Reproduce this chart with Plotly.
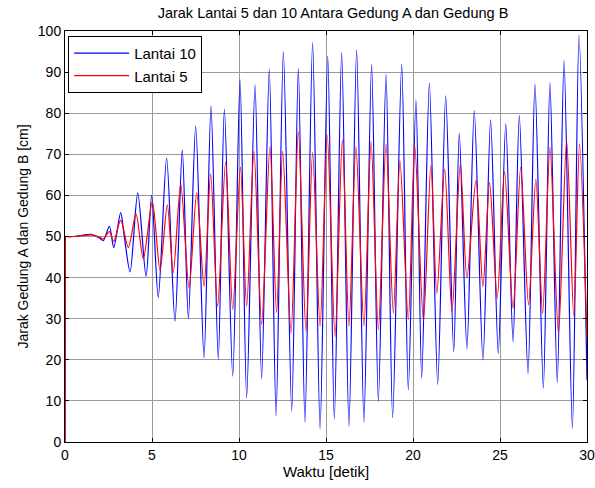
import plotly.graph_objects as go

# ---- data (peaks / troughs) ----
t_l10 = [0.0, 0.02, 0.5, 1.0, 1.5, 2.0, 2.2, 2.55, 2.8, 3.2, 3.4, 3.74, 4.18, 4.66, 4.98, 5.36, 5.84, 6.32,
         6.74, 7.09, 7.51, 7.99, 8.39, 8.81, 9.16, 9.64, 10.06, 10.44, 10.92, 11.3, 11.74, 12.13,
         12.55, 13.03, 13.41, 13.79, 14.23, 14.66, 15.1, 15.48, 15.9, 16.32, 16.76, 17.18, 17.62,
         18.01, 18.45, 18.83, 19.35, 19.73, 20.17, 20.5, 20.94, 21.42, 21.88, 22.34, 22.66, 23.1,
         23.52, 24.02, 24.46, 24.9, 25.33, 25.75, 26.11, 26.61, 27.01, 27.49, 27.87, 28.29, 28.68,
         29.16, 29.54, 30.0]
y_l10 = [0.0, 50.0, 50.0, 50.3, 50.5, 49.6, 49.0, 52.5, 47.3, 55.8, 50.2, 41.4, 60.6, 40.3, 60.0, 35.2, 69.1, 29.4,
         71.1, 30.0, 76.9, 20.5, 81.8, 20.1, 81.0, 16.0, 88.1, 10.7, 86.9, 15.4, 90.7, 6.4,
         95.0, 7.5, 90.9, 4.8, 97.2, 3.2, 93.9, 5.6, 94.8, 3.8, 95.5, 4.8, 91.9,
         9.9, 89.5, 5.9, 91.9, 12.7, 83.2, 15.6, 87.3, 14.0, 84.2, 22.0, 75.1, 22.7,
         80.6, 20.0, 78.4, 21.5, 77.4, 24.4, 79.4, 16.7, 87.1, 13.1, 87.4, 14.5, 92.8,
         3.3, 99.0, 15.0]

t_l5 = [0.0, 0.02, 0.5, 1.0, 1.5, 2.0, 2.2, 2.55, 2.8, 3.2, 3.64, 4.08, 4.5, 5.02, 5.46, 5.88, 6.22, 6.65,
        7.13, 7.57, 7.99, 8.37, 8.77, 9.23, 9.64, 10.08, 10.44, 10.86, 11.3, 11.78, 12.16, 12.51,
        12.99, 13.41, 13.85, 14.23, 14.66, 15.07, 15.52, 15.94, 16.32, 16.72, 17.18, 17.59, 18.01,
        18.45, 18.87, 19.25, 19.73, 20.1, 20.6, 21.03, 21.37, 21.82, 22.24, 22.72, 23.1, 23.62,
        24.02, 24.4, 24.84, 25.26, 25.75, 26.19, 26.64, 27.06, 27.45, 27.87, 28.36, 28.83, 29.24,
        29.57, 30.0]
y_l5 = [0.0, 50.0, 50.0, 50.2, 50.4, 49.8, 49.4, 51.2, 48.8, 54.0, 47.3, 55.5, 44.6, 58.5, 41.8, 57.7, 41.2, 62.8,
        37.5, 60.7, 37.9, 65.2, 33.0, 68.1, 32.2, 66.9, 33.0, 70.7, 28.6, 71.9, 31.5, 70.7,
        26.5, 75.5, 26.9, 70.4, 28.1, 74.7, 25.7, 73.5, 28.1, 71.9, 28.3, 73.1, 27.3,
        72.5, 31.4, 68.4, 29.8, 72.1, 29.5, 67.4, 36.2, 66.4, 31.7, 67.6, 39.9, 63.7,
        37.8, 63.1, 35.0, 65.8, 32.5, 66.8, 33.4, 63.9, 31.3, 71.7, 26.4, 73.3, 30.7,
        72.5, 25.0]

x_ticks = [0, 5, 10, 15, 20, 25, 30]
y_ticks = [0, 10, 20, 30, 40, 50, 60, 70, 80, 90, 100]

font = "Liberation Sans, Arial, sans-serif"
series = [("Lantai 10", t_l10, y_l10, "#0000ff"), ("Lantai 5", t_l5, y_l5, "#ff0000")]

fig = go.Figure()
# initial step (t = 0 jump from 0 to 50), drawn straight
for name, t, y, col in series:
    fig.add_trace(go.Scatter(x=t[:3], y=y[:3], mode="lines", showlegend=False, hoverinfo="skip",
                             line=dict(color=col, width=1.2)))
for name, t, y, col in series:
    fig.add_trace(go.Scatter(x=t[1:], y=y[1:], mode="lines", name=name,
                             line=dict(color=col, width=1.2, shape="spline", smoothing=0.8)))

axis_common = dict(showgrid=True, gridcolor="#9a9a9a", gridwidth=1,
                   showline=True, linecolor="black", linewidth=1, mirror="ticks",
                   ticks="inside", ticklen=4, tickcolor="black", zeroline=False,
                   automargin=False,
                   tickfont=dict(family=font, size=14, color="black"))

W, H = 595, 488
fig.update_layout(
    width=W, height=H,
    paper_bgcolor="white", plot_bgcolor="white",
    margin=dict(l=65, r=8, t=31, b=46),
    title=dict(text="Jarak Lantai 5 dan 10 Antara Gedung A dan Gedung B",
               x=333 / W, xanchor="center", y=1 - 13 / H, yanchor="middle",
               font=dict(family=font, size=14.5, color="black")),
    xaxis=dict(range=[0, 30], tickvals=x_ticks,
               title=dict(text="Waktu [detik]", standoff=3,
                          font=dict(family=font, size=15, color="black")),
               **axis_common),
    yaxis=dict(range=[0, 100], tickvals=y_ticks,
               title=dict(text="Jarak Gedung A dan Gedung B [cm]", standoff=5,
                          font=dict(family=font, size=14, color="black")),
               **axis_common),
    legend=dict(x=0.006, y=0.988, xanchor="left", yanchor="top",
                bgcolor="white", bordercolor="black", borderwidth=1,
                font=dict(family=font, size=15, color="black"),
                tracegroupgap=0, itemwidth=55),
    showlegend=True,
)

fig.write_html("out.html", config={"displayModeBar": False},
               post_script="document.body.style.margin='0';document.body.style.overflow='hidden';")
